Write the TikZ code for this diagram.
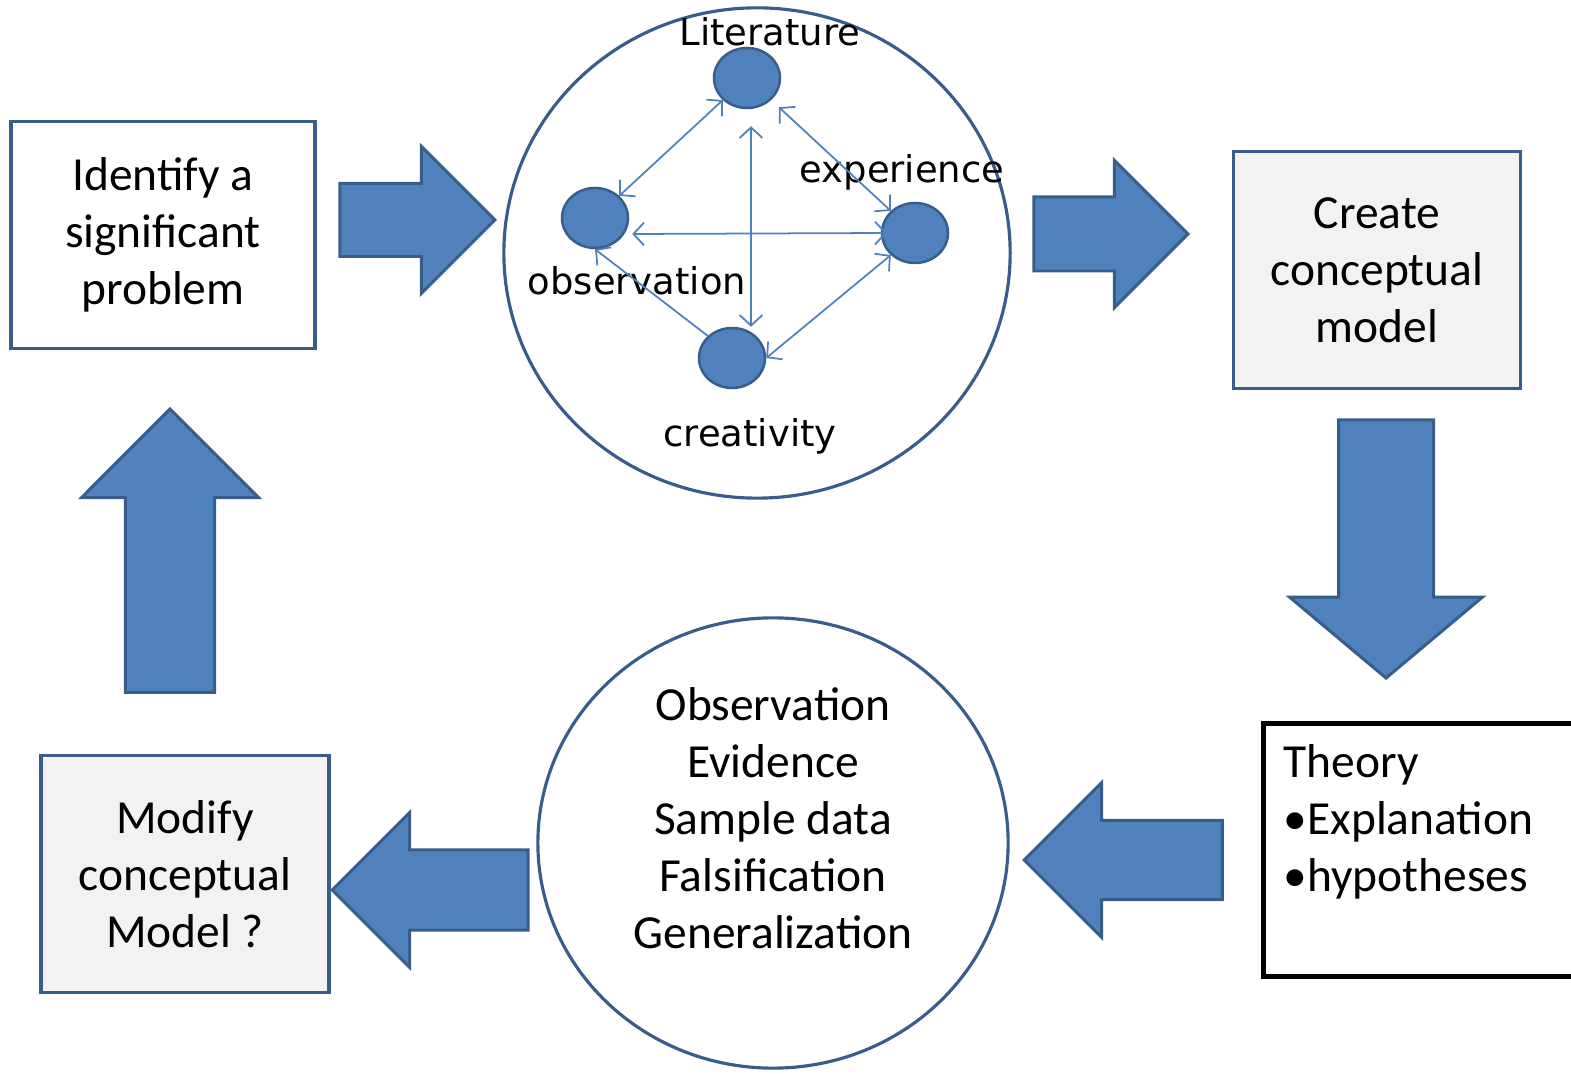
\documentclass[tikz,border=0pt]{standalone}
\usepackage{fontspec}
\setmainfont{Carlito}
\newfontfamily\labelfont{DejaVu Sans}
\usetikzlibrary{positioning, arrows.meta, shapes.geometric, shapes.arrows}
\definecolor{accent}{HTML}{4F81BD}
\definecolor{edge}{HTML}{385D8A}
\definecolor{boxgray}{HTML}{F2F2F2}

\begin{document}
\begin{tikzpicture}[
    x=0.01cm, y=-0.01cm,
    box/.style={rectangle, draw=edge, line width=1pt, fill=white, align=center,
                font=\fontsize{13.5}{16.2}\selectfont},
    graybox/.style={box, fill=boxgray},
    bigarrow/.style n args={4}{single arrow, draw=edge, fill=accent, line width=0.85pt,
                inner xsep=0pt, minimum height=#1, minimum width=#2, inner ysep=#3,
                single arrow head extend=#4, anchor=tip},
    dot/.style={ellipse, draw=edge, fill=accent, line width=0.7pt,
                minimum width=0.66cm, minimum height=0.6cm, inner sep=0pt},
    lbl/.style={font=\labelfont\fontsize{10.5}{12}\selectfont, inner sep=0pt},
    link/.style={accent, line width=0.5pt},
    tip/.tip={Straight Barb[length=3pt, width=6.5pt]}
  ]
  \useasboundingbox (0,0) rectangle (1571,1074);
  \clip (0,0) rectangle (1571,1074);

  % boxes
  \node[box, minimum width=3.04cm, minimum height=2.27cm] (problem) at (163,235)
    {Identify a\\significant\\problem};
  \node[graybox, minimum width=2.87cm, minimum height=2.37cm] (create) at (1377,270)
    {Create\\conceptual\\model};
  \node[graybox, minimum width=2.88cm, minimum height=2.37cm] (modify) at (185,874)
    {Modify\\conceptual\\Model ?};
  \node[rectangle, draw=black, line width=1.4pt, fill=white,
        minimum width=3.36cm, minimum height=2.52cm] (theory) at (1432,850) {};
  \node[anchor=west, align=left, inner sep=0pt,
        font=\fontsize{13.5}{16.2}\selectfont] (theorytxt) at (1283,822)
    {Theory\\•Explanation\\•hypotheses};

  % sources circle
  \node[ellipse, draw=edge, line width=0.9pt, minimum width=5.06cm,
        minimum height=4.9cm] (sources) at (757,253) {};
  \node[dot] (lit) at (747,78) {};
  \node[dot] (obs) at (595,218) {};
  \node[dot] (exp) at (915,233) {};
  \node[dot] (cre) at (732,358) {};
  \node[lbl] (littxt) at (770,32) {Literature};
  \node[lbl] (exptxt) at (902,172) {experience};
  \node[lbl] (obstxt) at (637,281) {observation};
  \node[lbl] (cretxt) at (750,436) {creativity};
  \draw[link, tip-tip] (lit.south west) -- (obs.north east);
  \draw[link, tip-tip, shorten <=3pt] (lit.south east) -- (exp.north west);
  \draw[link, tip-tip] ([xshift=0.04cm, yshift=-0.17cm]lit.south) -- ([xshift=0.19cm]cre.north);
  \draw[link, tip-tip] ([xshift=0.03cm, yshift=-0.16cm]obs.east) -- ([xshift=0.06cm]exp.west);
  \draw[link, tip-] (obs.south) -- (cre.north west);
  \draw[link, tip-tip] (cre.east) -- (exp.south west);

  % testing circle
  \node[ellipse, draw=edge, line width=0.9pt, minimum width=4.7cm,
        minimum height=4.5cm] (test) at (773,843) {};
  \node[align=center, font=\fontsize{13.5}{16.2}\selectfont] (testtxt) at (773,818)
    {Observation\\Evidence\\Sample data\\Falsification\\Generalization};

  % block arrows (placed by their tips)
  \node[bigarrow={1.55cm}{1.44cm}{0.35cm}{0.37cm}] (arr1) at (497,220) {};
  \node[bigarrow={1.54cm}{1.44cm}{0.355cm}{0.365cm}] (arr2) at (1190,234) {};
  \node[bigarrow={2.58cm}{1.9cm}{0.46cm}{0.49cm}, single arrow tip angle=100,
        rotate=-90] (arr3) at (1386,680) {};
  \node[bigarrow={1.98cm}{1.52cm}{0.38cm}{0.38cm}, rotate=180] (arr4) at (1022,860) {};
  \node[bigarrow={1.96cm}{1.52cm}{0.385cm}{0.375cm}, rotate=180] (arr5) at (330,890) {};
  \node[bigarrow={2.83cm}{1.74cm}{0.43cm}{0.44cm}, rotate=90] (arr6) at (170,407) {};
\end{tikzpicture}
\end{document}
